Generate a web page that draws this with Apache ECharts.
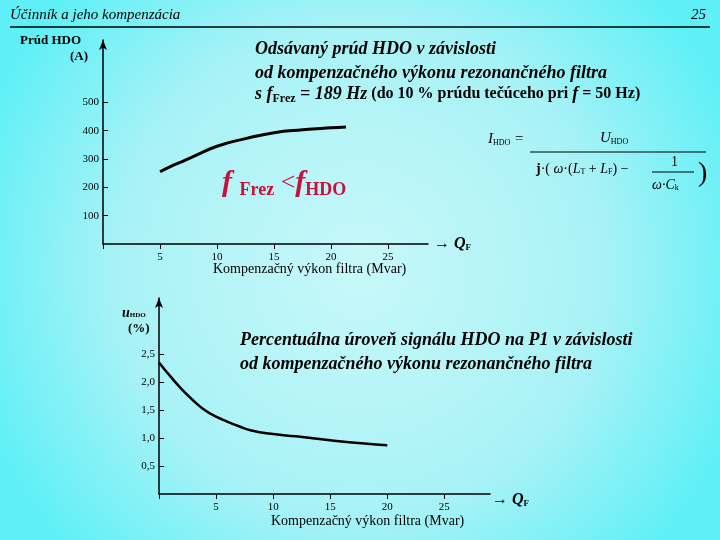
<!DOCTYPE html><html><head><meta charset="utf-8"><script src="https://cdn.jsdelivr.net/npm/echarts@6/dist/echarts.min.js"></script>
<style>body{margin:0}#c{width:720px;height:540px}</style></head><body><div id="c"></div><script>
const topX=[5,6,7,8,10,12.5,15,17.5,20,21.3];
const topY=[255,275,292,310,345,372,393,403,410,413];
const botX=[0,1,2,3,4,5,6,7,8,10,12,15,18,20];
const botY=[2.35,2.1,1.87,1.67,1.5,1.38,1.29,1.21,1.14,1.07,1.03,0.96,0.9,0.87];
const topTicks=[100,200,300,400,500];
const botTicks=[0.5,1.0,1.5,2.0,2.5];
const xTicks=[5,10,15,20,25];
const F='Liberation Serif';
const chart=echarts.init(document.getElementById('c'));
const xa=(gi,max)=>({type:'value',gridIndex:gi,min:0,max:max,
 axisLine:{onZero:false,lineStyle:{color:'#000',width:1.5}},axisTick:{length:5,customValues:[0].concat(xTicks),lineStyle:{color:'#000'}},
 splitLine:{show:false},axisLabel:{fontFamily:F,fontSize:11,color:'#000',customValues:xTicks}});
const ya=(gi,max,ticks,fmt)=>({type:'value',gridIndex:gi,min:0,max:max,axisLine:{show:true,symbol:['none','arrow'],symbolSize:[6,10],lineStyle:{color:'#000',width:1.5}},
   axisTick:{show:true,length:5,inside:true,customValues:ticks,lineStyle:{color:'#000'}},splitLine:{show:false},
   axisLabel:{fontFamily:F,fontSize:11,color:'#000',margin:4,customValues:ticks,formatter:fmt}});
chart.setOption({
 backgroundColor:{type:'radial',x:0.5,y:0.5,r:0.75,colorStops:[{offset:0,color:'#c8f8fa'},{offset:0.6,color:'#a8f2f6'},{offset:1,color:'#5ef0f6'}]},
 grid:[{left:103,top:40,right:292,bottom:296},{left:159,top:298,right:230,bottom:46}],
 xAxis:[xa(0,28.5),xa(1,29)],
 yAxis:[ya(0,720,topTicks,v=>v),ya(1,3.5,botTicks,v=>v.toFixed(1).replace('.',','))],
 series:[{type:'line',xAxisIndex:0,yAxisIndex:0,smooth:true,symbol:'none',lineStyle:{color:'#000',width:3},data:topX.map((x,i)=>[x,topY[i]])},
  {type:'line',xAxisIndex:1,yAxisIndex:1,smooth:true,symbol:'none',lineStyle:{color:'#000',width:2.5},data:botX.map((x,i)=>[x,botY[i]])}],
 graphic:[
  {type:'text',left:10,top:8,style:{text:'Účinník a jeho kompenzácia',fontFamily:F,fontStyle:'italic',fontSize:15,fill:'#000'}},
  {type:'text',right:14,top:8,style:{text:'25',fontFamily:F,fontStyle:'italic',fontSize:15,fill:'#000'}},
  {type:'line',shape:{x1:10,y1:27,x2:710,y2:27},style:{stroke:'#000',lineWidth:1.5}},
  {type:'text',left:20,top:34,style:{text:'Prúd HDO',fontFamily:F,fontWeight:'bold',fontSize:13,fill:'#000'}},
  {type:'text',left:70,top:50,style:{text:'(A)',fontFamily:F,fontWeight:'bold',fontSize:13,fill:'#000'}},
  {type:'text',left:255,top:37,style:{text:'Odsávaný prúd HDO v závislosti\nod kompenzačného výkonu rezonančného filtra',fontFamily:F,fontStyle:'italic',fontWeight:'bold',fontSize:18,lineHeight:24,fill:'#000'}},
  {type:'text',left:255,top:85,style:{rich:{b:{fontFamily:F,fontStyle:'italic',fontWeight:'bold',fontSize:18},s:{fontFamily:F,fontWeight:'bold',fontSize:12,padding:[10,0,0,0]},n:{fontFamily:F,fontWeight:'bold',fontSize:16}},text:'{b|s f}{s|Frez}{b| = 189 Hz}{n| (do 10 % prúdu tečúceho pri }{b|f}{n| = 50 Hz)}'}},
  {type:'text',left:222,top:168,style:{rich:{b:{fontFamily:F,fontStyle:'italic',fontWeight:'bold',fontSize:30,fill:'#c8103c'},s:{fontFamily:F,fontWeight:'bold',fontSize:18,fill:'#c8103c',padding:[14,0,0,0]},n:{fontFamily:F,fontSize:26,fill:'#c8103c'}},text:'{b|f }{s|Frez}{n| <}{b|f}{s|HDO}'}},
  {type:'text',left:434,top:236,style:{rich:{b:{fontFamily:F,fontStyle:'italic',fontWeight:'bold',fontSize:16},s:{fontFamily:F,fontWeight:'bold',fontSize:9,padding:[8,0,0,0]}},text:'{b|→ Q}{s|F}'}},
  {type:'text',left:213,top:262,style:{text:'Kompenzačný výkon filtra (Mvar)',fontFamily:F,fontSize:14,fill:'#000'}},
  {type:'text',left:488,top:132,style:{rich:{i:{fontFamily:F,fontStyle:'italic',fontSize:15},s:{fontFamily:F,fontSize:8,padding:[6,0,0,0]}},text:'{i|I}{s|HDO}{i| =}'}},
  {type:'text',left:600,top:131,style:{rich:{i:{fontFamily:F,fontStyle:'italic',fontSize:15},s:{fontFamily:F,fontSize:8,padding:[6,0,0,0]}},text:'{i|U}{s|HDO}'}},
  {type:'line',shape:{x1:530,y1:152,x2:706,y2:152},style:{stroke:'#000',lineWidth:1}},
  {type:'text',left:536,top:162,style:{rich:{i:{fontFamily:F,fontStyle:'italic',fontSize:14},n:{fontFamily:F,fontSize:14},b:{fontFamily:F,fontWeight:'bold',fontSize:14},s:{fontFamily:F,fontSize:8,padding:[6,0,0,0]}},text:'{b|j}{n|·(}{i| ω}{n|·(}{i|L}{s|T}{n| + }{i|L}{s|F}{n|) −}'}},
  {type:'text',left:671,top:155,style:{text:'1',fontFamily:F,fontSize:14,fill:'#000'}},
  {type:'line',shape:{x1:652,y1:172,x2:694,y2:172},style:{stroke:'#000',lineWidth:1}},
  {type:'text',left:652,top:178,style:{rich:{i:{fontFamily:F,fontStyle:'italic',fontSize:14},s:{fontFamily:F,fontSize:8,padding:[6,0,0,0]}},text:'{i|ω·C}{s|k}'}},
  {type:'text',left:698,top:160,style:{text:')',fontFamily:F,fontSize:28,fill:'#000'}},
  {type:'text',left:122,top:306,style:{rich:{i:{fontFamily:F,fontStyle:'italic',fontWeight:'bold',fontSize:14},s:{fontFamily:F,fontWeight:'bold',fontSize:7,padding:[5,0,0,0]}},text:'{i|u}{s|HDO}'}},
  {type:'text',left:128,top:322,style:{text:'(%)',fontFamily:F,fontWeight:'bold',fontSize:13,fill:'#000'}},
  {type:'text',left:240,top:328,style:{text:'Percentuálna úroveň signálu HDO na P1 v závislosti\nod kompenzačného výkonu rezonančného filtra',fontFamily:F,fontStyle:'italic',fontWeight:'bold',fontSize:18,lineHeight:24,fill:'#000'}},
  {type:'text',left:492,top:492,style:{rich:{b:{fontFamily:F,fontStyle:'italic',fontWeight:'bold',fontSize:16},s:{fontFamily:F,fontWeight:'bold',fontSize:9,padding:[8,0,0,0]}},text:'{b|→ Q}{s|F}'}},
  {type:'text',left:271,top:514,style:{text:'Kompenzačný výkon filtra (Mvar)',fontFamily:F,fontSize:14,fill:'#000'}}
 ]});
</script></body></html>
